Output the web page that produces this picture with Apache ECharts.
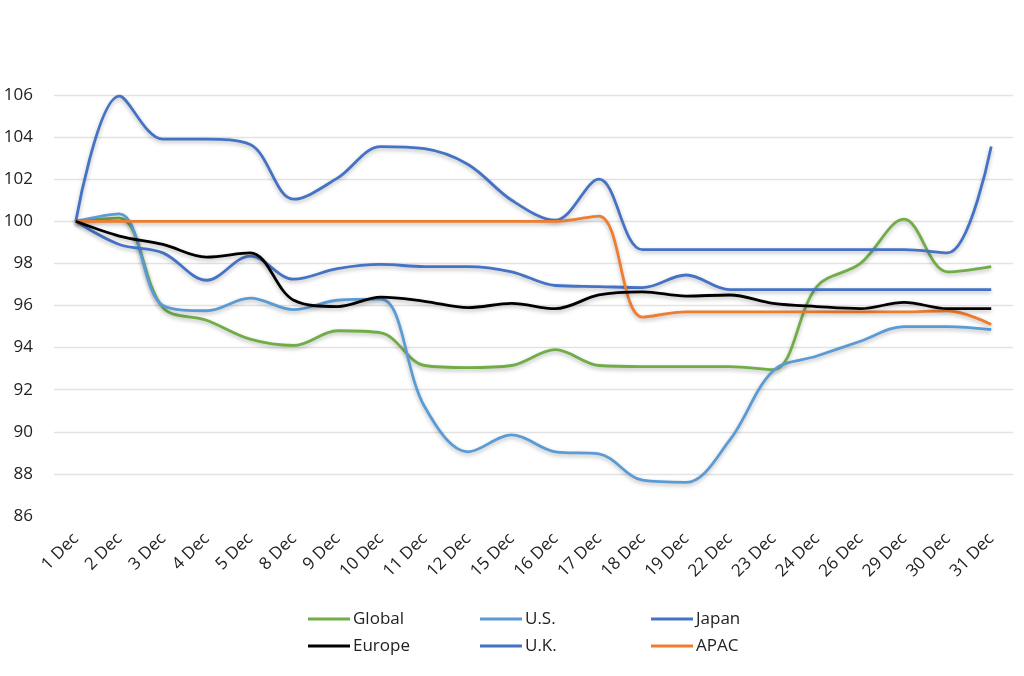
<!DOCTYPE html>
<html><head><meta charset="utf-8">
<script src="https://cdn.jsdelivr.net/npm/echarts@6/dist/echarts.min.js"></script>
<style>html,body{margin:0;padding:0;background:#fff}#c{width:1024px;height:676px}</style>
</head><body><div id="c"></div>
<script>
const categories = ['1 Dec','2 Dec','3 Dec','4 Dec','5 Dec','8 Dec','9 Dec','10 Dec','11 Dec','12 Dec','15 Dec','16 Dec','17 Dec','18 Dec','19 Dec','22 Dec','23 Dec','24 Dec','26 Dec','29 Dec','30 Dec','31 Dec'];
const globalVals = [100,100.15,95.9,95.3,94.4,94.1,94.8,94.7,93.15,93.05,93.15,93.9,93.15,93.1,93.1,93.1,92.95,96.9,98.0,100.1,97.6,97.85];
const usVals     = [100,100.35,96.0,95.75,96.35,95.8,96.25,96.3,91.2,89.05,89.85,89.05,88.95,87.7,87.6,89.6,92.9,93.6,94.3,95.0,95.0,94.85];
const japanVals  = [100,105.95,103.9,103.9,103.65,101.05,102.05,103.55,103.45,102.7,101.0,100.05,102.0,98.65,98.65,98.65,98.65,98.65,98.65,98.65,98.5,103.55];
const europeVals = [100,99.3,98.9,98.3,98.5,96.25,95.95,96.4,96.2,95.9,96.1,95.85,96.5,96.65,96.45,96.5,96.1,95.95,95.85,96.15,95.85,95.85];
const ukVals     = [100,98.9,98.5,97.2,98.35,97.25,97.75,97.95,97.85,97.85,97.6,96.95,96.9,96.85,97.45,96.75,96.75,96.75,96.75,96.75,96.75,96.75];
const apacVals   = [100,100,100,100,100,100,100,100,100,100,100,100,100.25,95.45,95.7,95.7,95.7,95.7,95.7,95.7,95.75,95.1];
const yTicks = {min:86, max:106, interval:2};

const chart = echarts.init(document.getElementById('c'));
function line(name, data, color, z){
  return {name, type:'line', data, smooth:0.35, symbol:'none', z:z||2,
    lineStyle:{color, width:2.8, shadowColor:'rgba(0,0,0,0.28)', shadowBlur:4, shadowOffsetY:2},
    itemStyle:{color}};
}
const FONT = 'Open Sans';
const legendBase = {orient:'vertical', icon:'rect', itemWidth:42, itemHeight:3, itemGap:7,
  textStyle:{fontSize:17, lineHeight:20, color:'#222', fontFamily:FONT, padding:[0,0,0,-2]}, top:604};
chart.setOption({
  animation:false,
  grid:{left:54, right:11, top:95, bottom:160},
  xAxis:{type:'category', data:categories, boundaryGap:true,
    axisLine:{show:false}, axisTick:{show:false},
    axisLabel:{rotate:45, fontSize:17, color:'#222', fontFamily:FONT, margin:20, interval:0}},
  yAxis:{type:'value', min:yTicks.min, max:yTicks.max, interval:yTicks.interval,
    axisLine:{show:false}, axisTick:{show:false},
    axisLabel:{fontSize:17, color:'#222', fontFamily:FONT, margin:21},
    splitLine:{lineStyle:{color:'#e3e3e3', width:1.3}, showMinLine:false}},
  legend:[
    Object.assign({}, legendBase, {left:303, data:['Global','Europe']}),
    Object.assign({}, legendBase, {left:475, data:['U.S.','U.K.']}),
    Object.assign({}, legendBase, {left:646, data:['Japan','APAC']})
  ],
  series:[
    line('Global', globalVals, '#70AD47'),
    line('U.S.', usVals, '#5B9BD5'),
    line('Japan', japanVals, '#4472C4'),
    line('Europe', europeVals, '#000000', 3),
    line('U.K.', ukVals, '#4472C4'),
    line('APAC', apacVals, '#ED7D31')
  ]
});
</script></body></html>
